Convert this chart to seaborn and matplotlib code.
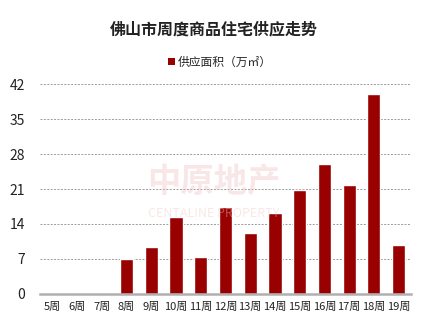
import matplotlib
matplotlib.use("Agg")
import matplotlib.pyplot as plt
import seaborn as sns
import pandas as pd
from matplotlib.patches import Patch

weeks = ["5周", "6周", "7周", "8周", "9周", "10周", "11周", "12周", "13周", "14周", "15周", "16周", "17周", "18周", "19周"]
supply = [0, 0, 0, 6.9, 9.3, 15.4, 7.3, 17.4, 12.1, 16.1, 20.8, 26.1, 21.8, 40.1, 9.7]
series_name = "供应面积（万㎡）"
title = "佛山市周度商品住宅供应走势"
yticks = [0, 7, 14, 21, 28, 35, 42]

sns.set_theme(style="white")
plt.rcParams['font.family'] = ['Noto Sans CJK SC', 'DejaVu Sans']

df = pd.DataFrame({"week": weeks, "value": supply, "series": series_name})

fig = plt.figure(figsize=(4.27, 3.31), dpi=100)
ax = fig.add_axes([0.0937, 0.1118, 0.8688, 0.6344])

# watermark
fig.text(0.5, 0.45, "中原地产", fontsize=24, color="#f2c4c4", alpha=0.4,
         ha="center", va="center", fontweight="bold", zorder=0)
fig.text(0.5, 0.355, "CENTALINE PROPERTY", fontsize=9, color="#f2c4c4", alpha=0.4,
         ha="center", va="center", zorder=0)

sns.barplot(data=df, x="week", y="value", color="#990000", width=0.53,
            saturation=1, ax=ax, zorder=3)
ax.patch.set_alpha(0)

ax.set_xlim(-0.5, len(weeks) - 0.5)
ax.set_ylim(0, 42)
ax.set_yticks(yticks)
ax.set_yticklabels([str(t) for t in yticks], fontsize=10, color="#222222")
ax.tick_params(axis="x", labelsize=8, colors="#222222", pad=6, length=0)
ax.tick_params(axis="y", pad=11, length=0)
ax.set_xlabel("")
ax.set_ylabel("")

for t in yticks[1:]:
    ax.axhline(t, color="#9a9a9a", lw=0.7, ls=(0, (2, 1.5)), zorder=1)

for s in ["top", "right", "left"]:
    ax.spines[s].set_visible(False)
ax.spines["bottom"].set_color("#b0b0b0")
ax.spines["bottom"].set_linewidth(1.8)
ax.spines["bottom"].set_zorder(4)

fig.suptitle(title, y=0.935, fontsize=11.5, fontweight="bold", color="#222222")
handle = Patch(facecolor="#990000", edgecolor="none")
fig.legend([handle], [series_name], loc="center", bbox_to_anchor=(0.515, 0.812),
           frameon=False, fontsize=8.5, handlelength=0.6, handleheight=0.6,
           handletextpad=0.3, borderaxespad=0)

fig.savefig("out.png", dpi=100)
